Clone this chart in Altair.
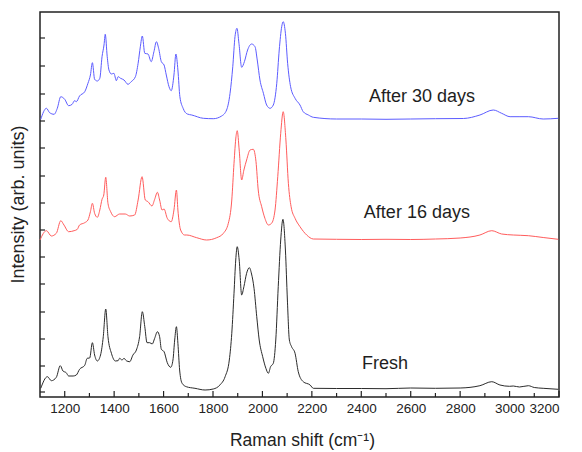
import altair as alt
import pandas as pd

# ---- data (Raman shift, cm-1 / intensity, arb. units) ----
series_names = ["Fresh", "After 16 days", "After 30 days"]
series_colors = ["#2b2b2b", "#ff5c5c", "#5c5cff"]

shift_fresh = [1103, 1130, 1146, 1166, 1182, 1193, 1206, 1216, 1234, 1247, 1260, 1281, 1291, 1301,
               1312, 1321, 1332, 1345, 1356, 1366, 1375, 1389, 1405, 1416, 1422, 1432, 1440, 1449,
               1463, 1476, 1490, 1503, 1514, 1524, 1533, 1544, 1554, 1564, 1575, 1584, 1591, 1602,
               1615, 1629, 1638, 1645, 1652, 1658, 1665, 1675, 1692, 1727, 1768, 1801, 1828, 1849,
               1866, 1876, 1885, 1892, 1898, 1906, 1916, 1925, 1936, 1947, 1956, 1966, 1977, 1987,
               2001, 2014, 2024, 2033, 2044, 2054, 2064, 2074, 2083, 2093, 2101, 2109, 2118, 2132,
               2145, 2165, 2193, 2206, 2300, 2400, 2500, 2600, 2700, 2800, 2880, 2928, 2961, 3000,
               3015, 3040, 3076, 3100, 3136, 3197]
int_fresh = [8.7, 20.3, 16.3, 19.7, 31.3, 26, 24.3, 21, 21, 22, 27.7, 31.7, 38.7, 39,
             54.3, 42, 36, 42, 60.3, 88, 60.3, 43.7, 36, 36.3, 38.7, 37, 38.7, 36.3,
             35.3, 42, 47, 60.3, 85.3, 70.3, 54.3, 54.3, 53, 58.7, 65.3, 60.3, 47.7, 45.3,
             34.3, 29.7, 37, 57, 70.3, 53.7, 27, 13.7, 10.3, 8.7, 7, 8, 12, 20.3,
             37, 63.7, 103.7, 137, 150.3, 137, 102, 110.3, 123.7, 129.3, 123, 108.7, 80.3, 57,
             40.3, 28.7, 23.7, 30.3, 33.7, 57, 110.3, 157, 177.7, 147, 97, 57, 50.3, 43.7,
             25.3, 15.3, 12, 8.7, 8.5, 8.5, 8.3, 9, 8.7, 9, 11.3, 15.3, 12, 10.7,
             11, 10, 11.3, 9.5, 8.7, 7.7]

shift_16 = [1100, 1126, 1146, 1166, 1184, 1197, 1216, 1238, 1251, 1260, 1281, 1294, 1304, 1312,
            1321, 1332, 1342, 1351, 1358, 1366, 1375, 1386, 1402, 1422, 1445, 1463, 1483, 1497,
            1513, 1526, 1537, 1553, 1564, 1575, 1584, 1594, 1602, 1615, 1631, 1642, 1652, 1658,
            1669, 1685, 1694, 1734, 1774, 1815, 1842, 1862, 1876, 1885, 1893, 1898, 1906, 1916,
            1925, 1936, 1950, 1963, 1974, 1983, 1997, 2010, 2024, 2037, 2051, 2062, 2074, 2084,
            2095, 2105, 2116, 2132, 2152, 2179, 2206, 2300, 2400, 2500, 2600, 2700, 2800, 2880,
            2928, 2968, 3015, 3076, 3136, 3197]
int_16 = [157, 166.3, 161, 163.7, 176.3, 172, 165.3, 166.3, 167.7, 172, 174.3, 177, 185.3, 193.7,
          183.7, 179.7, 187, 197.7, 202, 219.7, 193.7, 185.3, 180.3, 183, 183, 181, 182, 197,
          220.3, 197, 195.3, 191, 197.7, 204.7, 197, 187, 188, 178.7, 175.3, 187, 207, 187,
          167, 162, 162, 159.3, 157, 159.3, 163.7, 173.7, 197, 233.7, 260.3, 266.3, 247, 217,
          227, 237, 247, 247.7, 235.3, 207, 190.3, 178.7, 172, 173.7, 187, 220.3, 263.7, 285.3,
          257, 213.7, 190.3, 178.7, 170.3, 162, 158, 157.7, 157.5, 157.7, 157.5, 158, 159, 162,
          166.3, 163, 162, 161.3, 159.5, 157.7]

shift_30 = [1103, 1126, 1139, 1157, 1170, 1184, 1200, 1216, 1230, 1240, 1247, 1260, 1281, 1294,
            1304, 1312, 1321, 1332, 1342, 1351, 1359, 1364, 1372, 1379, 1389, 1399, 1409, 1416,
            1426, 1440, 1456, 1469, 1486, 1497, 1506, 1514, 1524, 1537, 1550, 1561, 1571, 1580,
            1591, 1602, 1611, 1622, 1631, 1642, 1650, 1658, 1666, 1679, 1696, 1714, 1761, 1801,
            1835, 1855, 1869, 1880, 1889, 1897, 1905, 1916, 1927, 1940, 1956, 1970, 1979, 1990,
            2004, 2017, 2031, 2044, 2058, 2068, 2078, 2084, 2093, 2102, 2114, 2132, 2152, 2165,
            2186, 2206, 2300, 2400, 2500, 2600, 2700, 2813, 2880, 2934, 2968, 3002, 3042, 3076,
            3136, 3197]
int_30 = [277.7, 288.7, 284.3, 282.7, 288.7, 300.3, 297.7, 291.3, 292.7, 296.3, 295.3, 301, 305.3, 313.7,
          322, 334.3, 317.7, 316, 318.7, 340.3, 352, 362.7, 340.3, 327, 323, 323.7, 316.3, 320.3,
          318.7, 317, 312.7, 315.3, 320.3, 333.7, 350.3, 361, 343.7, 343, 335.3, 345.3, 355.3, 348.7,
          335.3, 332, 322, 310.3, 306.3, 322, 343, 327, 300.3, 288.7, 283, 282, 278.7, 278.3,
          281, 287, 303.7, 330.3, 360.3, 368.7, 353.7, 329.7, 335.3, 347, 353, 350.3, 337, 317,
          303.7, 292, 288.7, 292, 313.7, 347, 370.3, 375.3, 363.7, 333.7, 310.3, 298.7, 292, 285.3,
          282, 279.7, 278, 278, 277.7, 278, 278.3, 278.5, 282, 287, 283.7, 280.3, 280.3, 280.3,
          278, 278.7]

label_texts = ["After 30 days", "After 16 days", "Fresh"]
label_shift = [2646, 2625, 2496]
label_int = [300, 184, 33]

x_label_values = [1200, 1400, 1600, 1800, 2000, 2200, 2400, 2600, 2800, 3000, 3200]
x_minor_values = [1300, 1500, 1700, 1900, 2100, 2300, 2500, 2700, 2900, 3100]
y_tick_values = [5, 31, 58, 85, 113, 140, 167, 194, 221, 249, 276, 303, 331, 359]

# ---- tables ----
rows = []
for name, xs, ys in [("Fresh", shift_fresh, int_fresh),
                     ("After 16 days", shift_16, int_16),
                     ("After 30 days", shift_30, int_30)]:
    for xv, yv in zip(xs, ys):
        rows.append({"series": name, "shift": xv, "intensity": yv})
df = pd.DataFrame(rows)
df_labels = pd.DataFrame({"label": label_texts, "shift": label_shift, "intensity": label_int})
df_xmaj = pd.DataFrame({"shift": x_label_values})
df_xmin = pd.DataFrame({"shift": x_minor_values})
df_y = pd.DataFrame({"intensity": y_tick_values})

FONT = "Liberation Sans"
W, H = 519, 385

xscale = alt.Scale(domain=[1100, 3200], nice=False, zero=False)
yscale = alt.Scale(domain=[0, 385], nice=False, zero=False)

x_axis = alt.Axis(values=x_label_values, format="d", ticks=False, domain=False, grid=False,
                  title="Raman shift (cm⁻¹)", labelFontSize=13.5, labelPadding=4,
                  titleFontSize=17.5, titleFontWeight="normal",
                  titleX=262, titleY=43, titleAlign="center", titleBaseline="middle")
y_axis = alt.Axis(labels=False, ticks=False, domain=False, grid=False,
                  title="Intensity (arb. units)", titleFontSize=18, titleFontWeight="normal",
                  titleX=-22, titleY=192, titleAlign="center", titleBaseline="middle")

X = alt.X("shift:Q", scale=xscale, axis=x_axis)
Y = alt.Y("intensity:Q", scale=yscale, axis=y_axis)

lines = alt.Chart(df).mark_line(strokeWidth=1.0, interpolate="monotone").encode(
    x=X, y=Y,
    color=alt.Color("series:N", scale=alt.Scale(domain=series_names, range=series_colors), legend=None),
    detail="series:N",
)

xmaj = alt.Chart(df_xmaj).mark_rule(color="#222", strokeWidth=1.2).encode(
    x=X, y=alt.value(H - 6), y2=alt.value(H))
xmin = alt.Chart(df_xmin).mark_rule(color="#222", strokeWidth=1.2).encode(
    x=X, y=alt.value(H - 4), y2=alt.value(H))
yt = alt.Chart(df_y).mark_rule(color="#222", strokeWidth=1.2).encode(
    y=Y, x=alt.value(0), x2=alt.value(5))

texts = alt.Chart(df_labels).mark_text(fontSize=18, font=FONT, color="#1e1e1e",
                                       align="center", baseline="middle").encode(
    x=X, y=Y, text="label:N")

chart = alt.layer(lines, xmaj, xmin, yt, texts).properties(
    width=W, height=H,
    autosize=alt.AutoSizeParams(type="none"),
    padding={"left": 32, "top": 4, "right": 15, "bottom": 55},
).configure_axis(
    labelFont=FONT, titleFont=FONT, labelColor="#222", titleColor="#222"
).configure_view(stroke="#222", strokeWidth=1.5)

chart.save("out.html", embed_options={"renderer": "svg", "actions": False})
